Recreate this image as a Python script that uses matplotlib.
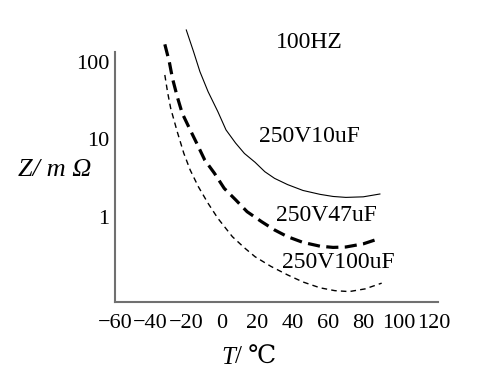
import matplotlib.pyplot as plt

# temperature (degC) and impedance (mOhm)
t_10uf = [-19.8, -15.7, -12.1, -7.5, -2.0, 2.6, 8, 13, 19.0, 24.5, 30, 37.3, 46, 55.6, 63, 70.2, 80, 89.4]
z_10uf = [259, 136, 75, 41.4, 22.9, 13.3, 9.0, 6.6, 5.08, 3.84, 3.15, 2.62, 2.2, 1.96, 1.84, 1.79, 1.82, 1.98]

t_47uf = [-31.9, -29.4, -27.6, -24.9, -22.1, -17.6, -13.9, -9.4, -3.9, 1.6, 8.1, 14.5, 22.7, 30, 37.3, 46, 55.6, 63, 70.2, 80, 89.4]
z_47uf = [169, 101, 61.6, 35.7, 21.8, 13.3, 8.93, 5.44, 3.66, 2.34, 1.66, 1.17, 0.869, 0.68, 0.557, 0.47, 0.42, 0.405, 0.41, 0.45, 0.53]

t_100uf = [-31.9, -30.4, -28.6, -24.9, -21.2, -17.6, -13.0, -7.5, -2.0, 6.2, 13, 19.0, 28, 37.3, 46, 55.6, 64, 72.1, 81, 90.4]
z_100uf = [68, 41.4, 25.3, 12.6, 6.64, 4.04, 2.46, 1.50, 0.962, 0.557, 0.40, 0.307, 0.23, 0.179, 0.145, 0.122, 0.112, 0.109, 0.118, 0.140]

x_ticks = [-60, -40, -20, 0, 20, 40, 60, 80, 100, 120]
y_ticks = [1, 10, 100]
y_tick_labels = ["1", "10", "100"]

plt.rcParams["font.family"] = ["Liberation Serif", "DejaVu Serif"]

fig = plt.figure(figsize=(4.8, 3.79), dpi=100)
ax = fig.add_axes([0.2396, 0.2032, 0.673, 0.6596])

ax.plot(t_10uf, z_10uf, color="black", lw=0.8, clip_on=False)
ax.plot(t_47uf, z_47uf, color="black", lw=2.3, dashes=(3.8, 2.0), clip_on=False)
ax.plot(t_100uf, z_100uf, color="black", lw=1.0, dashes=(4, 3), clip_on=False)

ax.set_yscale("log")
ax.set_xlim(-55, 122.2)
ax.set_ylim(0.08, 134.6)

ax.set_xticks(x_ticks)
ax.set_xticklabels([str(v).replace("-", "\u2212") for v in x_ticks])
ax.set_yticks(y_ticks)
ax.set_yticklabels(y_tick_labels)
ax.minorticks_off()
ax.tick_params(axis="both", length=0, labelsize=16)
ax.tick_params(axis="x", pad=9)
ax.tick_params(axis="y", pad=4)

for side in ["top", "right"]:
    ax.spines[side].set_visible(False)
for side in ["left", "bottom"]:
    ax.spines[side].set_color("#707070")
    ax.spines[side].set_linewidth(1.5)

# axis titles
ax.text(-0.186, 0.528, "Z/ m \u03a9", transform=ax.transAxes, fontsize=19,
        style="italic", ha="center", va="center")
ax.text(0.371, -0.224, "T", transform=ax.transAxes, fontsize=18,
        style="italic", ha="right", va="center")
ax.text(0.371, -0.224, "/ \u2103", transform=ax.transAxes, fontsize=18,
        ha="left", va="center")

ax.text(49.8, 176, "100HZ", fontsize=17, ha="center", va="center")
ax.text(49.8, 10.8, "250V10uF", fontsize=17, ha="center", va="center")
ax.text(59.1, 1.06, "250V47uF", fontsize=17, ha="center", va="center")
ax.text(66.2, 0.255, "250V100uF", fontsize=17, ha="center", va="center")

plt.savefig("out.png", dpi=100)
